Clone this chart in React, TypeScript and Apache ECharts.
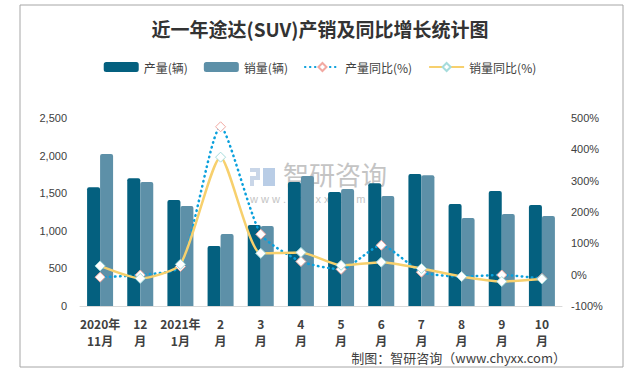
import React, { useEffect, useRef } from "react";
import * as echarts from "echarts";

const categories = ["2020年\n11月", "12\n月", "2021年\n1月", "2\n月", "3\n月", "4\n月", "5\n月", "6\n月", "7\n月", "8\n月", "9\n月", "10\n月"];
const production = [1578, 1698, 1410, 798, 1077, 1649, 1516, 1631, 1755, 1356, 1529, 1343];
const sales = [2021, 1649, 1330, 957, 1064, 1729, 1556, 1463, 1738, 1170, 1223, 1197];
const productionYoy = [-8, -1, 26, 472, 129, 42, 17, 94, 8, -6, -1, -12];
const salesYoy = [28, -12, 33, 375, 68, 71, 30, 40, 20, -6, -22, -14];
const seriesNames = ["产量(辆)", "销量(辆)", "产量同比(%)", "销量同比(%)"];
const titleText = "近一年途达(SUV)产销及同比增长统计图";
const sourceText = "制图：智研咨询（www.chyxx.com）";

export default function App() {
  const ref = useRef<HTMLDivElement>(null);
  useEffect(() => {
    document.body.style.margin = "0";
    const chart = echarts.init(ref.current!, null, { renderer: "svg" });
    const axisLabelStyle = { color: "#404040", fontSize: 11, fontFamily: "Liberation Sans, Arial, sans-serif" };
    chart.setOption({
      animation: false,
      backgroundColor: "#ffffff",
      title: {
        text: titleText,
        left: "center",
        top: 14,
        textStyle: { fontSize: 19, fontWeight: "bold", color: "#333333", fontFamily: "Noto Sans CJK SC" },
      },
      legend: {
        top: 56,
        left: "center",
        itemWidth: 35,
        itemHeight: 10,
        itemGap: 16,
        textStyle: { fontSize: 12, color: "#404040", fontFamily: "Noto Sans CJK SC" },
        data: seriesNames,
      },
      grid: { left: 80, right: 78, top: 118, bottom: 68 },
      xAxis: {
        type: "category",
        data: categories,
        axisLine: { lineStyle: { color: "#d9d9d9" } },
        axisTick: { show: false },
        axisLabel: {
          color: "#404040",
          fontSize: 12,
          fontWeight: "bold",
          lineHeight: 17,
          margin: 9,
          interval: 0,
          fontFamily: "Noto Sans CJK SC",
        },
      },
      yAxis: [
        {
          type: "value",
          min: 0,
          max: 2500,
          interval: 500,
          splitLine: { show: false },
          axisLine: { show: false },
          axisTick: { show: false },
          axisLabel: {
            ...axisLabelStyle,
            margin: 13,
            formatter: (v: number) => v.toLocaleString("en-US"),
          },
        },
        {
          type: "value",
          min: -100,
          max: 500,
          interval: 100,
          splitLine: { show: false },
          axisLine: { show: false },
          axisTick: { show: false },
          axisLabel: { ...axisLabelStyle, margin: 9, formatter: "{value}%" },
        },
      ],
      graphic: [
        {
          type: "rect",
          shape: { x: 20, y: 5, width: 603, height: 362 },
          style: { fill: "none", stroke: "#a6a6a6", lineWidth: 1 },
          z: -10,
        },
        {
          type: "group",
          z: -5,
          children: [
            { type: "rect", shape: { x: 250, y: 168, width: 10, height: 4 }, style: { fill: "#c9d6e8" } },
            { type: "rect", shape: { x: 256, y: 168, width: 4, height: 10 }, style: { fill: "#c9d6e8" } },
            { type: "rect", shape: { x: 250, y: 176, width: 10, height: 4 }, style: { fill: "#c9d6e8" } },
            { type: "rect", shape: { x: 250, y: 176, width: 4, height: 10 }, style: { fill: "#c9d6e8" } },
            { type: "rect", shape: { x: 263, y: 168, width: 12, height: 18 }, style: { fill: "#b9cde6" } },
            {
              type: "text",
              x: 283,
              y: 160,
              style: { text: "智研咨询", fontSize: 26, fill: "#c4c4c4", fontFamily: "Noto Sans CJK SC" },
            },
            {
              type: "text",
              x: 250,
              y: 193,
              style: { text: "w w w . c h y x x . c o m", fontSize: 11, fill: "#c4c4c4", fontFamily: "Liberation Sans" },
            },
          ],
        },
        {
          type: "text",
          right: 74,
          top: 351,
          style: { text: sourceText, fontSize: 13, fill: "#404040", fontFamily: "Noto Sans CJK SC" },
        },
      ],
      series: [
        {
          name: seriesNames[0],
          type: "bar",
          data: production,
          barWidth: 13,
          barGap: "0%",
          itemStyle: { color: "#04607f", borderRadius: [2, 2, 0, 0] },
        },
        {
          name: seriesNames[1],
          type: "bar",
          data: sales,
          barWidth: 13,
          barGap: "0%",
          itemStyle: { color: "#5d90a8", borderRadius: [2, 2, 0, 0] },
        },
        {
          name: seriesNames[2],
          type: "line",
          yAxisIndex: 1,
          data: productionYoy,
          smooth: 0.2,
          symbol: "diamond",
          symbolSize: 10,
          lineStyle: { color: "#0aa0dc", width: 2.5, type: [0.5, 4.5], cap: "round" },
          itemStyle: { color: "#ffffff", borderColor: "#f2a9a2", borderWidth: 1 },
        },
        {
          name: seriesNames[3],
          type: "line",
          yAxisIndex: 1,
          data: salesYoy,
          smooth: 0.2,
          symbol: "diamond",
          symbolSize: 10,
          lineStyle: { color: "#f7d06d", width: 2.5 },
          itemStyle: { color: "#ffffff", borderColor: "#a6dcdc", borderWidth: 1 },
        },
      ],
    });
    return () => chart.dispose();
  }, []);
  return <div ref={ref} style={{ width: 640, height: 374 }} />;
}
